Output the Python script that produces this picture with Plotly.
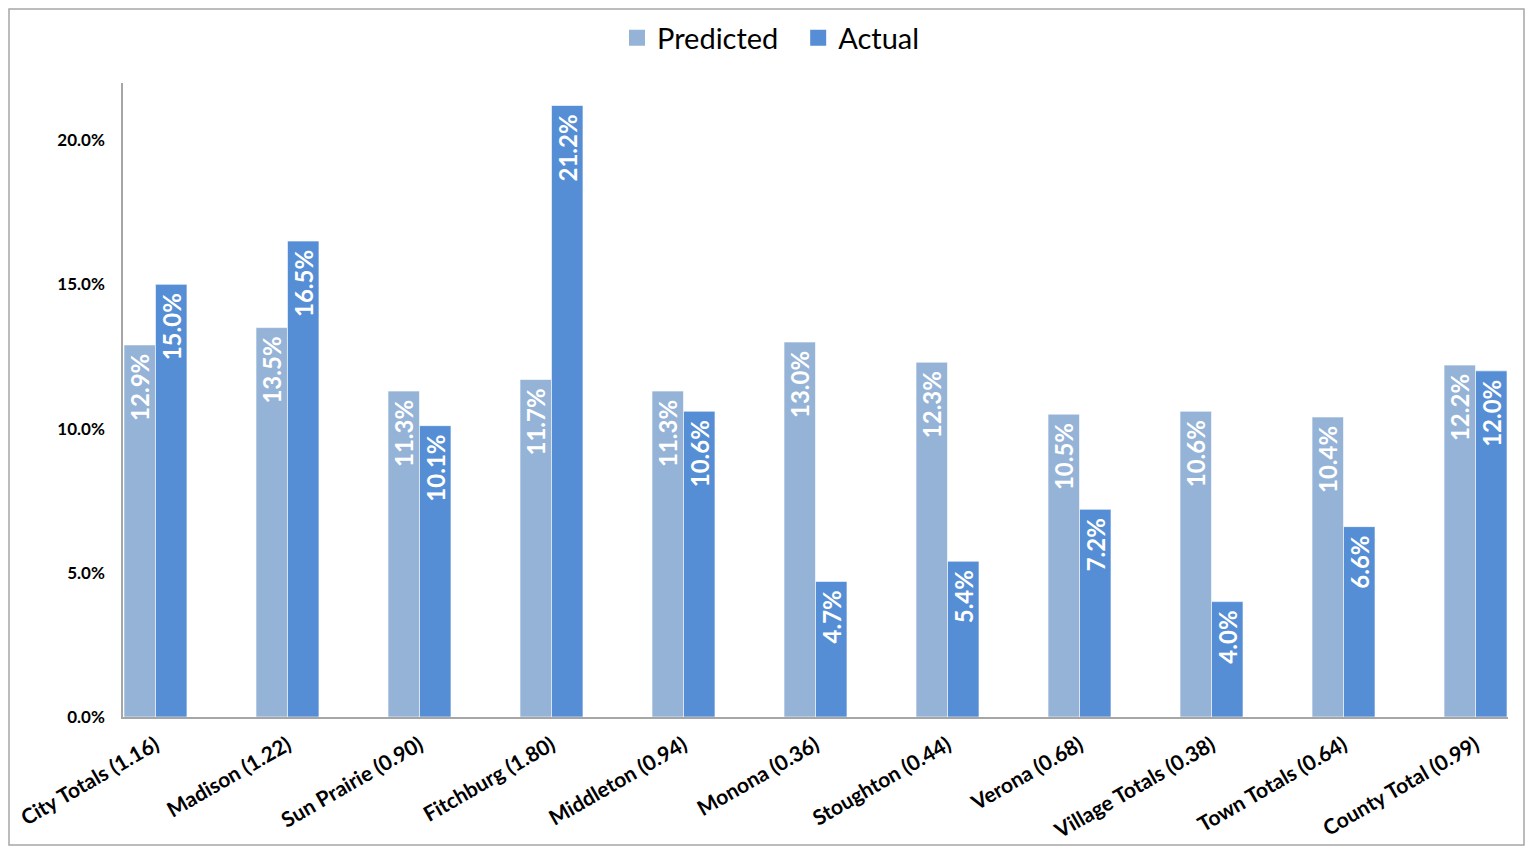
import plotly.graph_objects as go

categories = ["City Totals (1.16)", "Madison (1.22)", "Sun Prairie (0.90)", "Fitchburg (1.80)",
              "Middleton (0.94)", "Monona (0.36)", "Stoughton (0.44)", "Verona (0.68)",
              "Village Totals (0.38)", "Town Totals (0.64)", "County Total (0.99)"]
predicted = [12.9, 13.5, 11.3, 11.7, 11.3, 13.0, 12.3, 10.5, 10.6, 10.4, 12.2]
actual = [15.0, 16.5, 10.1, 21.2, 10.6, 4.7, 5.4, 7.2, 4.0, 6.6, 12.0]
y_ticks = [0, 5, 10, 15, 20]

FONT = "Lato"
OFF = 8  # browser body margin
W, H = 1533 - 2 * OFF, 854 - 2 * OFF
# reference pixel positions of the plot area
PL, PR, PT, PB = 123, 1508, 83, 717
L, T = PL - OFF, PT - OFF
R = W - (PR - OFF)
B = H - (PB - OFF)

series = [("Predicted", predicted, "#95B3D7"), ("Actual", actual, "#558ED5")]

fig = go.Figure()
for name, vals, color in series:
    fig.add_trace(go.Bar(
        x=list(range(len(categories))), y=vals, name=name, showlegend=False,
        marker=dict(color=color, line=dict(color="rgba(255,255,255,0.6)", width=1)),
        text=[f"{v:.1f}%\u00a0" for v in vals],
        textposition="inside", insidetextanchor="end", textangle=-90,
        constraintext="none",
        insidetextfont=dict(family=FONT, size=24, color="white", weight="bold"),
        cliponaxis=False,
    ))
for name, vals, color in series:
    fig.add_trace(go.Scatter(
        x=[None], y=[None], mode="markers", name=name + "\u00a0\u00a0",
        marker=dict(symbol="square", size=18, color=color),
    ))

pw = W - L - R
ph = H - T - B
def px_x(p): return (p - OFF - L) / pw
def px_y(p): return (H - B - (p - OFF)) / ph

fig.update_layout(
    width=W, height=H,
    margin=dict(l=L, r=R, t=T, b=B, autoexpand=False),
    paper_bgcolor="white", plot_bgcolor="white",
    barmode="group", bargap=0.523, bargroupgap=0,
    font=dict(family=FONT, color="black"),
    showlegend=True,
    legend=dict(orientation="h", x=px_x(778), xanchor="center",
                y=px_y(38), yanchor="middle",
                font=dict(family=FONT, size=29), itemwidth=30,
                traceorder="normal"),
    xaxis=dict(
        range=[-0.246, 10.246],
        tickmode="array", tickvals=list(range(len(categories))), ticktext=categories,
        tickangle=-30, tickfont=dict(family=FONT, size=21, color="black", weight="bold"),
        showline=True, linecolor="#A6A6A6", linewidth=1.5, showgrid=False,
        ticks="", ticklabelstandoff=6, zeroline=False,
    ),
    yaxis=dict(
        range=[0, 21.98],
        tickmode="array", tickvals=y_ticks, ticktext=[f"{v:.1f}%" for v in y_ticks],
        tickfont=dict(family=FONT, size=17, color="black", weight="bold"),
        showline=True, linecolor="#A6A6A6", linewidth=1.5, showgrid=False,
        ticks="", ticklabelstandoff=13, zeroline=False,
    ),
    shapes=[dict(type="rect", xref="paper", yref="paper",
                 x0=(1 - L) / pw, x1=(W - 1 - L) / pw,
                 y0=(H - B - (H - 1)) / ph, y1=(H - B - 1) / ph,
                 line=dict(color="#A6A6A6", width=1.5), fillcolor="rgba(0,0,0,0)", layer="below")],
)

fig.write_html("out.html")
